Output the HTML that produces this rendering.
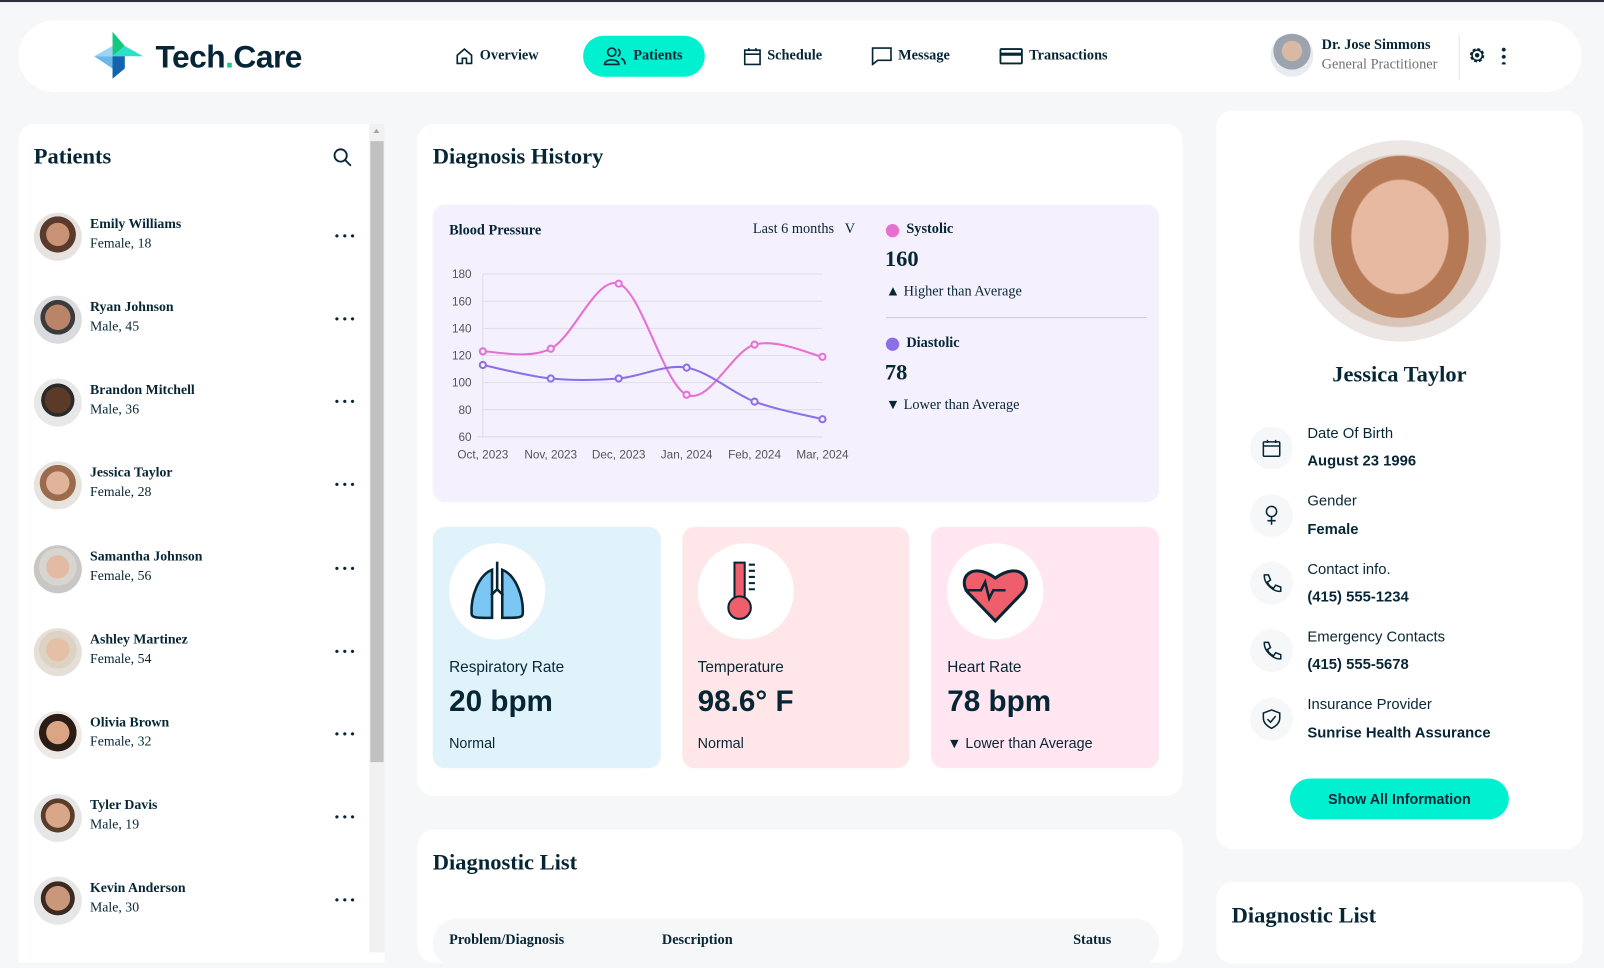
<!DOCTYPE html>
<html><head><meta charset="utf-8">
<style>
*{box-sizing:border-box;margin:0;padding:0}
html,body{width:1604px;height:946px;overflow:hidden;background:#F6F7F8}
#w{position:absolute;left:0;top:0;width:1568px;height:925px;transform:scale(1.02296);transform-origin:0 0;font-family:"Liberation Serif",serif;color:#072635}
.a{position:absolute}
.card{position:absolute;background:#fff;border-radius:16px}
.serif{font-family:"Liberation Serif",serif}
.sans{font-family:"Liberation Sans","DejaVu Sans",sans-serif}
.nav{position:absolute;top:46px;font-size:14px;font-weight:bold;display:flex;align-items:center;gap:6px}
.pn{font-size:13.5px;font-weight:bold;line-height:19px}
.ps{font-size:13.5px;line-height:19px;color:#072635}
.av{position:absolute;width:47px;height:47px;border-radius:50%}
.dots{position:absolute;left:326px;font-size:20px;font-weight:bold;letter-spacing:1px;line-height:10px}
.ic{position:absolute;left:1222px;width:42px;height:42px;border-radius:50%;background:#F6F7F8;display:flex;align-items:center;justify-content:center}
.lb{position:absolute;left:1278px;font-size:14.5px;font-family:"Liberation Sans",sans-serif;color:#072635}
.vl{position:absolute;left:1278px;font-size:14.5px;font-weight:bold;font-family:"Liberation Sans",sans-serif;color:#072635}
</style></head><body>
<div id="w">
<div class="a" style="left:0;top:0;width:1568px;height:2px;background:#2c2f3a"></div>
<div class="a" style="left:18px;top:20px;width:1528px;height:70px;background:#fff;border-radius:35px"></div>
<svg class="a" style="left:92px;top:31px" width="50" height="48" viewBox="0 0 50 48">
<polygon points="18,0 18,24 30,14" fill="#16c784"/>
<polygon points="30,14 18,24 48,24" fill="#2de0c6"/>
<polygon points="0,24 18,24 18,14" fill="#9bd3f2"/>
<polygon points="0,24 18,24 18,36" fill="#6bb8e8"/>
<polygon points="18,24 30,24 30,36 18,46" fill="#1463b0"/>
</svg>
<div class="a sans" style="left:152px;top:38px;font-size:31px;font-weight:bold;color:#072635;letter-spacing:-0.5px">Tech<span style="color:#16c784">.</span>Care</div>
<div class="nav" style="left:445px"><svg width="18" height="18" viewBox="0 0 18 18"><path d="M2 8 L9 2 L16 8 V16 H11 V11 H7 V16 H2 Z" fill="none" stroke="#072635" stroke-width="1.6"/></svg>Overview</div>
<div class="a" style="left:570px;top:35px;width:119px;height:40px;background:#01F0D0;border-radius:20px"></div>
<div class="nav" style="left:589px"><svg width="24" height="18" viewBox="0 0 24 18"><circle cx="9" cy="5" r="4" fill="none" stroke="#072635" stroke-width="1.6"/><path d="M2 17 C2 11 16 11 16 17 Z" fill="none" stroke="#072635" stroke-width="1.6"/><path d="M15 2 A4 4 0 0 1 15 9 M18 11 C21 12 22 14 22 17" fill="none" stroke="#072635" stroke-width="1.6"/></svg>Patients</div>
<div class="nav" style="left:727px"><svg width="17" height="18" viewBox="0 0 17 18"><rect x="1" y="3" width="15" height="14" fill="none" stroke="#072635" stroke-width="1.6"/><path d="M1 7 H16 M5 1 V4 M12 1 V4" stroke="#072635" stroke-width="1.6"/></svg>Schedule</div>
<div class="nav" style="left:852px"><svg width="20" height="18" viewBox="0 0 20 18"><path d="M1 1 H19 V13 H6 L1 17 Z" fill="none" stroke="#072635" stroke-width="1.6"/></svg>Message</div>
<div class="nav" style="left:977px"><svg width="23" height="18" viewBox="0 0 23 18"><rect x="1" y="2" width="21" height="14" rx="1" fill="none" stroke="#072635" stroke-width="1.8"/><path d="M1 7 H22" stroke="#072635" stroke-width="3"/></svg>Transactions</div>
<div class="a" style="left:1242px;top:33px;width:42px;height:42px;border-radius:50%;background:radial-gradient(circle at 50% 40%,#d9b9a3 0 30%,#9aa3ae 31% 55%,#e8ebef 56%)"></div>
<div class="a" style="left:1292px;top:37px;font-size:14px;font-weight:bold">Dr. Jose Simmons</div>
<div class="a" style="left:1292px;top:56px;font-size:14px;color:#707070">General Practitioner</div>
<div class="a" style="left:1426px;top:34px;width:1px;height:44px;background:#e3e4e6"></div>
<svg class="a" style="left:1434px;top:44px" width="20" height="20" viewBox="0 0 20 20"><circle cx="10" cy="10" r="6" fill="none" stroke="#072635" stroke-width="2" stroke-dasharray="3 1.7"/><circle cx="10" cy="10" r="5" fill="none" stroke="#072635" stroke-width="1.5"/><circle cx="10" cy="10" r="2.2" fill="#072635"/></svg>
<div class="a" style="left:1468px;top:45px;width:4px;height:18px;background:radial-gradient(circle,#072635 1.8px,transparent 2px) 0 0/4px 7px"></div>

<div class="card" style="left:18px;top:121px;width:358px;height:820px;border-radius:16px 0 0 0"></div>
<div class="a" style="left:361px;top:121px;width:15px;height:810px;background:#f1f1f1"></div>
<div class="a" style="left:362px;top:138px;width:13px;height:607px;background:#c1c1c1"></div>
<div class="a" style="left:365px;top:126px;width:0;height:0;border-left:3.5px solid transparent;border-right:3.5px solid transparent;border-bottom:4px solid #a3a3a3"></div>
<div class="a" style="left:33px;top:140px;font-size:22px;font-weight:bold">Patients</div>
<svg class="a" style="left:325px;top:144px" width="20" height="20" viewBox="0 0 20 20"><circle cx="8" cy="8" r="6" fill="none" stroke="#072635" stroke-width="1.8"/><path d="M12.5 12.5 L18 18" stroke="#072635" stroke-width="1.8"/></svg>

<div class="av" style="left:33px;top:208px;background:radial-gradient(circle at 50% 45%,#c89276 0 32%,#5a3a2a 33% 50%,#e6e2df 51%)"></div>
<div class="a" style="left:88px;top:209px"><div class="pn">Emily Williams</div><div class="ps">Female, 18</div></div><div class="dots" style="top:226px">···</div>
<div class="av" style="left:33px;top:289px;background:radial-gradient(circle at 50% 45%,#b98467 0 35%,#3b3b3b 36% 48%,#d9dbde 49%)"></div>
<div class="a" style="left:88px;top:290px"><div class="pn">Ryan Johnson</div><div class="ps">Male, 45</div></div><div class="dots" style="top:307px">···</div>
<div class="av" style="left:33px;top:370px;background:radial-gradient(circle at 50% 45%,#5b3a28 0 36%,#2a2a2a 37% 46%,#e8e8e8 47%)"></div>
<div class="a" style="left:88px;top:371px"><div class="pn">Brandon Mitchell</div><div class="ps">Male, 36</div></div><div class="dots" style="top:388px">···</div>
<div class="av" style="left:33px;top:451px;background:radial-gradient(circle at 50% 45%,#e0b49b 0 32%,#9b6b4c 33% 50%,#e7e3df 51%)"></div>
<div class="a" style="left:88px;top:452px"><div class="pn">Jessica Taylor</div><div class="ps">Female, 28</div></div><div class="dots" style="top:469px">···</div>
<div class="av" style="left:33px;top:533px;background:radial-gradient(circle at 50% 45%,#e3bba5 0 32%,#d8d4cf 33% 52%,#c9c7c5 53%)"></div>
<div class="a" style="left:88px;top:534px"><div class="pn">Samantha Johnson</div><div class="ps">Female, 56</div></div><div class="dots" style="top:551px">···</div>
<div class="av" style="left:33px;top:614px;background:radial-gradient(circle at 50% 45%,#e6c0a6 0 32%,#ddd3c4 33% 52%,#e5dfd7 53%)"></div>
<div class="a" style="left:88px;top:615px"><div class="pn">Ashley Martinez</div><div class="ps">Female, 54</div></div><div class="dots" style="top:632px">···</div>
<div class="av" style="left:33px;top:695px;background:radial-gradient(circle at 50% 45%,#d9a585 0 32%,#2b1d16 33% 52%,#ece9e6 53%)"></div>
<div class="a" style="left:88px;top:696px"><div class="pn">Olivia Brown</div><div class="ps">Female, 32</div></div><div class="dots" style="top:713px">···</div>
<div class="av" style="left:33px;top:776px;background:radial-gradient(circle at 50% 45%,#d8a688 0 34%,#5a3c2a 35% 47%,#e6e6e6 48%)"></div>
<div class="a" style="left:88px;top:777px"><div class="pn">Tyler Davis</div><div class="ps">Male, 19</div></div><div class="dots" style="top:794px">···</div>
<div class="av" style="left:33px;top:857px;background:radial-gradient(circle at 50% 45%,#c9977a 0 34%,#3a2a20 35% 47%,#e6e6e6 48%)"></div>
<div class="a" style="left:88px;top:858px"><div class="pn">Kevin Anderson</div><div class="ps">Male, 30</div></div><div class="dots" style="top:875px">···</div>

<div class="card" style="left:408px;top:121px;width:748px;height:657px"></div>
<div class="a" style="left:423px;top:140px;font-size:22px;font-weight:bold">Diagnosis History</div>
<div class="a" style="left:423px;top:200px;width:710px;height:291px;background:#F4F0FE;border-radius:12px"></div>
<div class="a" style="left:439px;top:218px;font-size:14px;font-weight:bold">Blood Pressure</div>
<div class="a" style="left:736px;top:217px;font-size:14px">Last 6 months &nbsp;&nbsp;V</div>
<svg class="a" style="left:423px;top:200px" width="420" height="291" viewBox="423 200 420 291">
<g stroke="#e0dde8" stroke-width="1">
<line x1="472" y1="268" x2="804" y2="268"/><line x1="472" y1="294.5" x2="804" y2="294.5"/><line x1="472" y1="321" x2="804" y2="321"/><line x1="472" y1="347.5" x2="804" y2="347.5"/><line x1="472" y1="374" x2="804" y2="374"/><line x1="472" y1="400.5" x2="804" y2="400.5"/><line x1="466" y1="427" x2="804" y2="427"/><line x1="472" y1="268" x2="472" y2="427"/>
</g>
<g font-family="Liberation Sans,sans-serif" font-size="11.5" fill="#555" text-anchor="end">
<text x="461" y="272">180</text><text x="461" y="298.5">160</text><text x="461" y="325">140</text><text x="461" y="351.5">120</text><text x="461" y="378">100</text><text x="461" y="404.5">80</text><text x="461" y="431">60</text>
</g>
<g font-family="Liberation Sans,sans-serif" font-size="11.5" fill="#555" text-anchor="middle">
<text x="472" y="448">Oct, 2023</text><text x="538.4" y="448">Nov, 2023</text><text x="604.8" y="448">Dec, 2023</text><text x="671.2" y="448">Jan, 2024</text><text x="737.6" y="448">Feb, 2024</text><text x="804" y="448">Mar, 2024</text>
</g>
<path d="M472 343.5 C483.1 343.1 516.3 351.9 538.4 340.9 C560.5 329.9 582.7 269.8 604.8 277.3 C626.9 284.8 649.1 376 671.2 385.9 C693.3 395.8 715.5 343.1 737.6 336.9 C759.7 330.7 792.9 346.8 804 348.8" fill="none" stroke="#E66FD2" stroke-width="2"/>
<path d="M472 356.8 C483.1 359 516.3 367.8 538.4 370 C560.5 372.2 582.7 371.8 604.8 370 C626.9 368.2 649.1 355.6 671.2 359.4 C693.3 363.2 715.5 384.2 737.6 392.6 C759.7 401 792.9 406.9 804 409.8" fill="none" stroke="#8C6FE6" stroke-width="2"/>
<g fill="#F4F0FE" stroke="#E66FD2" stroke-width="2"><circle cx="472" cy="343.5" r="3"/><circle cx="538.4" cy="340.9" r="3"/><circle cx="604.8" cy="277.3" r="3"/><circle cx="671.2" cy="385.9" r="3"/><circle cx="737.6" cy="336.9" r="3"/><circle cx="804" cy="348.8" r="3"/></g>
<g fill="#F4F0FE" stroke="#8C6FE6" stroke-width="2"><circle cx="472" cy="356.8" r="3"/><circle cx="538.4" cy="370" r="3"/><circle cx="604.8" cy="370" r="3"/><circle cx="671.2" cy="359.4" r="3"/><circle cx="737.6" cy="392.6" r="3"/><circle cx="804" cy="409.8" r="3"/></g>
</svg>
<div class="a" style="left:866px;top:219px;width:13px;height:13px;border-radius:50%;background:#E66FD2"></div>
<div class="a" style="left:886px;top:217px;font-size:14px;font-weight:bold">Systolic</div>
<div class="a" style="left:865px;top:240px;font-size:22px;font-weight:bold">160</div>
<div class="a" style="left:866px;top:278px;font-size:14px">▲ Higher than Average</div>
<div class="a" style="left:866px;top:310px;width:255px;height:1px;background:#CBC8D4"></div>
<div class="a" style="left:866px;top:330px;width:13px;height:13px;border-radius:50%;background:#8C6FE6"></div>
<div class="a" style="left:886px;top:328px;font-size:14px;font-weight:bold">Diastolic</div>
<div class="a" style="left:865px;top:351px;font-size:22px;font-weight:bold">78</div>
<div class="a" style="left:866px;top:389px;font-size:14px">▼ Lower than Average</div>

<div class="a" style="left:423px;top:515px;width:223px;height:236px;background:#E0F3FA;border-radius:12px"></div>
<div class="a" style="left:667px;top:515px;width:222px;height:236px;background:#FFE6E9;border-radius:12px"></div>
<div class="a" style="left:910px;top:515px;width:223px;height:236px;background:#FFE6F1;border-radius:12px"></div>
<div class="a" style="left:439px;top:531px;width:94px;height:94px;border-radius:50%;background:#fff"></div>
<div class="a" style="left:682px;top:531px;width:94px;height:94px;border-radius:50%;background:#fff"></div>
<div class="a" style="left:926px;top:531px;width:94px;height:94px;border-radius:50%;background:#fff"></div>
<svg class="a" style="left:458px;top:548px" width="56" height="60" viewBox="0 0 56 60"><path d="M23 9 C10 14 2 35 3 52 C3 56 8 56 23 56 Z" fill="#7cc6f3" stroke="#072635" stroke-width="2.5"/><path d="M33 9 C46 14 54 35 53 52 C53 56 48 56 33 56 Z" fill="#7cc6f3" stroke="#072635" stroke-width="2.5"/><path d="M28 1 V28 M28 28 L22 34 M28 28 L34 34" stroke="#072635" stroke-width="2.5" fill="none"/></svg>
<svg class="a" style="left:710px;top:548px" width="40" height="60" viewBox="0 0 40 60"><rect x="8" y="2" width="10" height="38" fill="#ef5f6b" stroke="#072635" stroke-width="2"/><circle cx="13" cy="46" r="11" fill="#ef5f6b" stroke="#072635" stroke-width="2"/><path d="M22 4 H28 M22 10 H28 M22 16 H28 M22 22 H28 M22 28 H28" stroke="#072635" stroke-width="2"/></svg>
<svg class="a" style="left:941px;top:551px" width="64" height="58" viewBox="0 0 64 58"><path d="M32 56 L5 28 C-5 15 8 -3 32 14 C56 -3 69 15 59 28 Z" fill="#ef5f6b" stroke="#072635" stroke-width="3"/><path d="M2 26 H18 L22 18 L26 34 L30 26 H42" stroke="#072635" stroke-width="2.5" fill="none"/></svg>
<div class="a sans" style="left:439px;top:644px;font-size:15px">Respiratory Rate</div>
<div class="a sans" style="left:439px;top:670px;font-size:29px;font-weight:bold">20 bpm</div>
<div class="a sans" style="left:439px;top:718px;font-size:14px">Normal</div>
<div class="a sans" style="left:682px;top:644px;font-size:15px">Temperature</div>
<div class="a sans" style="left:682px;top:670px;font-size:29px;font-weight:bold">98.6° F</div>
<div class="a sans" style="left:682px;top:718px;font-size:14px">Normal</div>
<div class="a sans" style="left:926px;top:644px;font-size:15px">Heart Rate</div>
<div class="a sans" style="left:926px;top:670px;font-size:29px;font-weight:bold">78 bpm</div>
<div class="a sans" style="left:926px;top:718px;font-size:14px">▼ Lower than Average</div>

<div class="card" style="left:408px;top:811px;width:748px;height:130px"></div>
<div class="a" style="left:423px;top:830px;font-size:22px;font-weight:bold">Diagnostic List</div>
<div class="a" style="left:423px;top:898px;width:710px;height:48px;background:#F6F7F8;border-radius:24px"></div>
<div class="a" style="left:439px;top:912px;font-size:14px;font-weight:bold">Problem/Diagnosis</div>
<div class="a" style="left:647px;top:912px;font-size:14px;font-weight:bold">Description</div>
<div class="a" style="left:1049px;top:912px;font-size:14px;font-weight:bold">Status</div>

<div class="card" style="left:1189px;top:108px;width:358px;height:722px"></div>
<div class="a" style="left:1270px;top:137px;width:197px;height:197px;border-radius:50%;background:radial-gradient(ellipse 34% 40% at 50% 48%,#e6b9a0 0 70%,#b57a55 72% 100%,transparent 101%),radial-gradient(circle at 50% 50%,#d9c4b8 0 60%,#ece7e4 61%)"></div>
<div class="a" style="left:1189px;top:353px;width:358px;text-align:center;font-size:22px;font-weight:bold">Jessica Taylor</div>
<div class="ic" style="top:417px"><svg width="18" height="18" viewBox="0 0 18 18"><rect x="1" y="3" width="16" height="14" rx="1" fill="none" stroke="#072635" stroke-width="1.5"/><path d="M1 7 H17 M5 1 V4 M13 1 V4" stroke="#072635" stroke-width="1.5"/></svg></div>
<div class="lb" style="top:416px">Date Of Birth</div><div class="vl" style="top:443px">August 23 1996</div>
<div class="ic" style="top:483px"><svg width="14" height="20" viewBox="0 0 14 20"><circle cx="7" cy="6" r="5" fill="none" stroke="#072635" stroke-width="1.5"/><path d="M7 11 V19 M3 15 H11" stroke="#072635" stroke-width="1.5"/></svg></div>
<div class="lb" style="top:482px">Gender</div><div class="vl" style="top:510px">Female</div>
<div class="ic" style="top:549px"><svg width="20" height="20" viewBox="0 0 20 20"><path d="M3 2 L7 2 L9 7 L6 9 C7 12 9 14 12 15 L14 12 L19 14 L19 18 C12 19 2 10 3 2 Z" fill="none" stroke="#072635" stroke-width="1.5"/></svg></div>
<div class="lb" style="top:549px">Contact info.</div><div class="vl" style="top:576px">(415) 555-1234</div>
<div class="ic" style="top:615px"><svg width="20" height="20" viewBox="0 0 20 20"><path d="M3 2 L7 2 L9 7 L6 9 C7 12 9 14 12 15 L14 12 L19 14 L19 18 C12 19 2 10 3 2 Z" fill="none" stroke="#072635" stroke-width="1.5"/></svg></div>
<div class="lb" style="top:615px">Emergency Contacts</div><div class="vl" style="top:642px">(415) 555-5678</div>
<div class="ic" style="top:682px"><svg width="18" height="20" viewBox="0 0 18 20"><path d="M9 1 L17 4 V9 C17 14 13 17 9 19 C5 17 1 14 1 9 V4 Z" fill="none" stroke="#072635" stroke-width="1.5"/><path d="M5 10 L8 13 L13 7" fill="none" stroke="#072635" stroke-width="1.5"/></svg></div>
<div class="lb" style="top:681px">Insurance Provider</div><div class="vl" style="top:709px">Sunrise Health Assurance</div>
<div class="a sans" style="left:1261px;top:761px;width:214px;height:40px;border-radius:20px;background:#01F0D0;font-size:14px;font-weight:bold;text-align:center;line-height:40px">Show All Information</div>

<div class="card" style="left:1189px;top:862px;width:358px;height:80px"></div>
<div class="a" style="left:1204px;top:882px;font-size:22px;font-weight:bold">Diagnostic List</div>
</div>
</body></html>
